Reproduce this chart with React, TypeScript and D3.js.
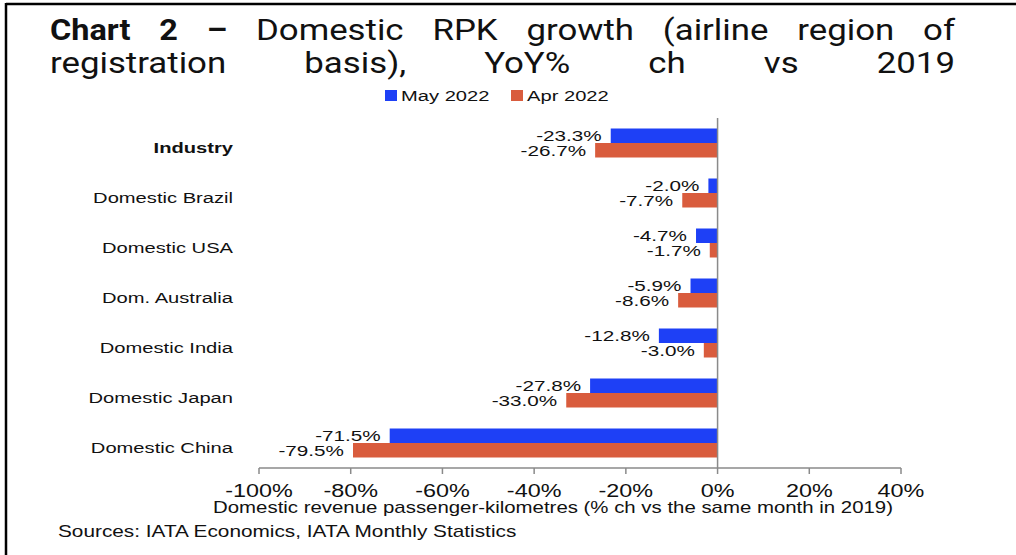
import React, { useEffect, useRef } from "react";
import * as d3 from "d3";

const categories = [
  "Industry",
  "Domestic Brazil",
  "Domestic USA",
  "Dom. Australia",
  "Domestic India",
  "Domestic Japan",
  "Domestic China",
];
const may2022 = [-23.3, -2.0, -4.7, -5.9, -12.8, -27.8, -71.5];
const apr2022 = [-26.7, -7.7, -1.7, -8.6, -3.0, -33.0, -79.5];
const seriesNames = ["May 2022", "Apr 2022"];
const xTicks = [-100, -80, -60, -40, -20, 0, 20, 40];
const titleLine1 = [
  { w: "Chart", b: true },
  { w: "2", b: true },
  { w: "–", b: true },
  { w: "Domestic", b: false },
  { w: "RPK", b: false },
  { w: "growth", b: false },
  { w: "(airline", b: false },
  { w: "region", b: false },
  { w: "of", b: false },
];
const titleLine2 = ["registration", "basis),", "YoY%", "ch", "vs", "2019"].map((w) => ({ w, b: false }));
const axisTitle = "Domestic revenue passenger-kilometres (% ch vs the same month in 2019)";
const sources = "Sources: IATA Economics, IATA Monthly Statistics";

const BLUE = "#1e40f6";
const RED = "#d95c3d";
const SX = 1.3;
const FONT = "'Liberation Sans', Arial, sans-serif";
const TFONT = "Roboto, 'Liberation Sans', sans-serif";
const TSX_B = 1.12;
const TSX_R = 1.2;

function SText(props: {
  x: number;
  y: number;
  anchor?: string;
  size?: number;
  sx?: number;
  weight?: string | number;
  fill?: string;
  children: React.ReactNode;
}) {
  const { x, y, anchor = "start", size = 15, sx = SX, weight = "normal", fill = "#111", children } = props;
  return (
    <text
      transform={`translate(${x},${y}) scale(${sx},1)`}
      textAnchor={anchor}
      fontFamily={FONT}
      fontSize={size}
      fontWeight={weight}
      fill={fill}
    >
      {children}
    </text>
  );
}

const fmt = (v: number) => `${v < 0 ? "-" : ""}${Math.abs(v).toFixed(1)}%`;

export default function App() {
  const titleRef = useRef<SVGGElement>(null);

  const x = d3.scaleLinear().domain([-100, 40]).range([259, 901]);
  const y = d3.scaleBand<string>().domain(categories).range([118, 468]).paddingInner(0.42).paddingOuter(0.21);
  const barH = y.bandwidth() / 2;

  useEffect(() => {
    const g = d3.select(titleRef.current);
    g.selectAll("*").remove();
    const left = 50;
    const right = 955;
    const lines = [
      { words: titleLine1, base: 40 },
      { words: titleLine2, base: 73 },
    ];
    lines.forEach((line) => {
      const nodes = line.words.map((wd) =>
        g
          .append("text")
          .attr("font-family", TFONT)
          .attr("font-size", 29)
          .attr("font-weight", wd.b ? 700 : 400)
          .attr("fill", "#111")
          .text(wd.w)
      );
      const widths = nodes.map(
        (n, i) => (n.node() as SVGTextElement).getComputedTextLength() * (line.words[i].b ? TSX_B : TSX_R)
      );
      const total = d3.sum(widths);
      const gap = (right - left - total) / (nodes.length - 1);
      let cx = left;
      nodes.forEach((n, i) => {
        n.attr("transform", `translate(${cx},${line.base}) scale(${line.words[i].b ? TSX_B : TSX_R},1)`);
        cx += widths[i] + gap;
      });
    });
  }, []);

  const zeroX = x(0);

  return (
    <svg
      width={1016}
      height={555}
      style={{ position: "absolute", left: 0, top: 0, background: "#fff" }}
    >
      <rect x={0} y={0} width={1016} height={555} fill="#fff" />
      {/* frame */}
      <line x1={6} y1={4} x2={1016} y2={4} stroke="#000" strokeWidth={2.5} />
      <line x1={6} y1={3} x2={6} y2={555} stroke="#000" strokeWidth={2.5} />

      <g ref={titleRef} />

      {/* legend */}
      <rect x={385} y={90} width={12} height={11} fill={BLUE} />
      <SText x={401} y={101} size={15.5}>
        {seriesNames[0]}
      </SText>
      <rect x={511} y={90} width={12} height={11} fill={RED} />
      <SText x={527} y={101} size={15.5}>
        {seriesNames[1]}
      </SText>

      {/* bars */}
      {categories.map((c, i) => {
        const y0 = y(c)!;
        const vals = [may2022[i], apr2022[i]];
        return (
          <g key={c}>
            {vals.map((v, j) => {
              const by = y0 + j * barH;
              const bx = x(Math.min(0, v));
              const bw = Math.abs(x(v) - zeroX);
              return (
                <g key={j}>
                  <rect x={bx} y={by} width={bw} height={barH} fill={j === 0 ? BLUE : RED} />
                  <SText x={x(v) - 9} y={by + barH / 2 + 5.5} anchor="end" size={15} sx={1.38}>
                    {fmt(v)}
                  </SText>
                </g>
              );
            })}
            <SText
              x={233}
              y={y0 + y.bandwidth() / 2 + 10}
              anchor="end"
              size={15.5}
              weight={i === 0 ? 700 : 400}
            >
              {c}
            </SText>
          </g>
        );
      })}

      {/* zero line */}
      <line x1={zeroX} y1={118} x2={zeroX} y2={468} stroke="#8a8a8a" strokeWidth={1.5} />

      {/* x axis */}
      <line x1={x(-100)} y1={468} x2={x(40)} y2={468} stroke="#8a8a8a" strokeWidth={1.5} />
      {xTicks.map((t) => (
        <g key={t}>
          <line x1={x(t)} y1={468} x2={x(t)} y2={474} stroke="#8a8a8a" strokeWidth={1.5} />
          <SText x={x(t)} y={497} anchor="middle" size={18}>
            {`${t}%`}
          </SText>
        </g>
      ))}
      <SText x={553} y={513} anchor="middle" size={15.7}>
        {axisTitle}
      </SText>
      <SText x={58} y={537} anchor="start" size={16}>
        {sources}
      </SText>
    </svg>
  );
}
